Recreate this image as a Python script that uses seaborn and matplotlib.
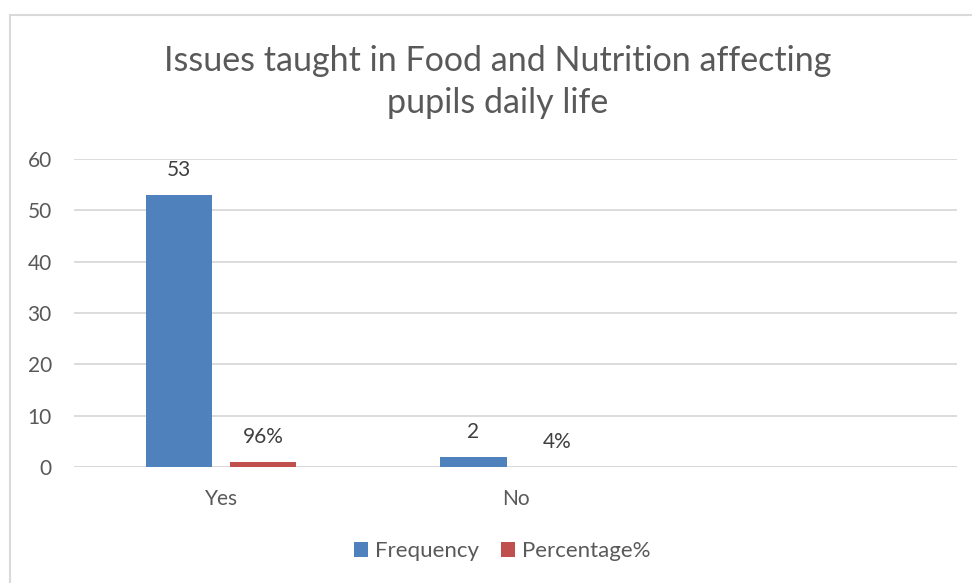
import matplotlib
matplotlib.use("Agg")
import matplotlib.pyplot as plt
import seaborn as sns
import pandas as pd
from matplotlib.patches import Rectangle

categories = ["Yes", "No"]
frequency = [53, 2]
percentage = [0.96, 0.04]
percentage_labels = ["96%", "4%"]
series = ["Frequency", "Percentage%"]
axis_order = ["Yes", "No", ""]
title = "Issues taught in Food and Nutrition affecting\npupils daily life"

df = pd.DataFrame({
    "category": categories * 2,
    "series": [series[0]] * len(categories) + [series[1]] * len(categories),
    "value": frequency + percentage,
})

sns.set_theme(style="white")
plt.rcParams["font.family"] = ["Lato", "DejaVu Sans"]

fig = plt.figure(figsize=(9.72, 5.83), dpi=100)
W, H = 972, 583
ax = fig.add_axes([74 / W, 1 - 467 / H, (957 - 74) / W, (467 - 159) / H])

palette = {series[0]: "#4F81BD", series[1]: "#C0504D"}
sns.barplot(data=df, x="category", y="value", hue="series", order=axis_order,
            hue_order=series, palette=palette, width=0.571, gap=0.21,
            saturation=1, ax=ax, legend=True, linewidth=0)

ax.set_xlim(-0.5, 2.5)
ax.set_ylim(0, 60)
ax.set_yticks(range(0, 61, 10))
ax.yaxis.grid(True, color="#D9D9D9", linewidth=1.3)
ax.set_axisbelow(True)
for s in ax.spines.values():
    s.set_visible(False)
ax.axhline(0, color="#D9D9D9", linewidth=1.3, zorder=0.5)
ax.set_xlabel("")
ax.set_ylabel("")
ax.tick_params(axis="both", length=0, labelsize=15, colors="#595959")
ax.tick_params(axis="y", pad=16)
ax.tick_params(axis="x", pad=16)

# data labels
label_sets = [[str(v) for v in frequency], percentage_labels]
for cont, labs in zip(ax.containers, label_sets):
    for bar, lab in zip(cont, labs):
        x = bar.get_x() + bar.get_width() / 2
        y = bar.get_height()
        ax.annotate(lab, (x, y), xytext=(0, 18), textcoords="offset points",
                    ha="center", va="center", fontsize=15, color="#404040")

leg = ax.legend(loc="center", bbox_to_anchor=(502 / W, 1 - 551 / H), bbox_transform=fig.transFigure,
                ncol=2, frameon=False, fontsize=16, handlelength=0.65, handleheight=0.65,
                columnspacing=1.0, handletextpad=0.3)
for t in leg.get_texts():
    t.set_color("#595959")

fig.text(498 / W, 1 - 82 / H, title, ha="center", va="center",
         fontsize=24.5, color="#595959", linespacing=1.4)

fig.patches.append(Rectangle((10 / W, -0.05), 1.1, 1 - 15 / H + 0.05,
                             transform=fig.transFigure, fill=False,
                             edgecolor="#D9D9D9", linewidth=1.5, zorder=10))

fig.savefig("out.png", dpi=100)
